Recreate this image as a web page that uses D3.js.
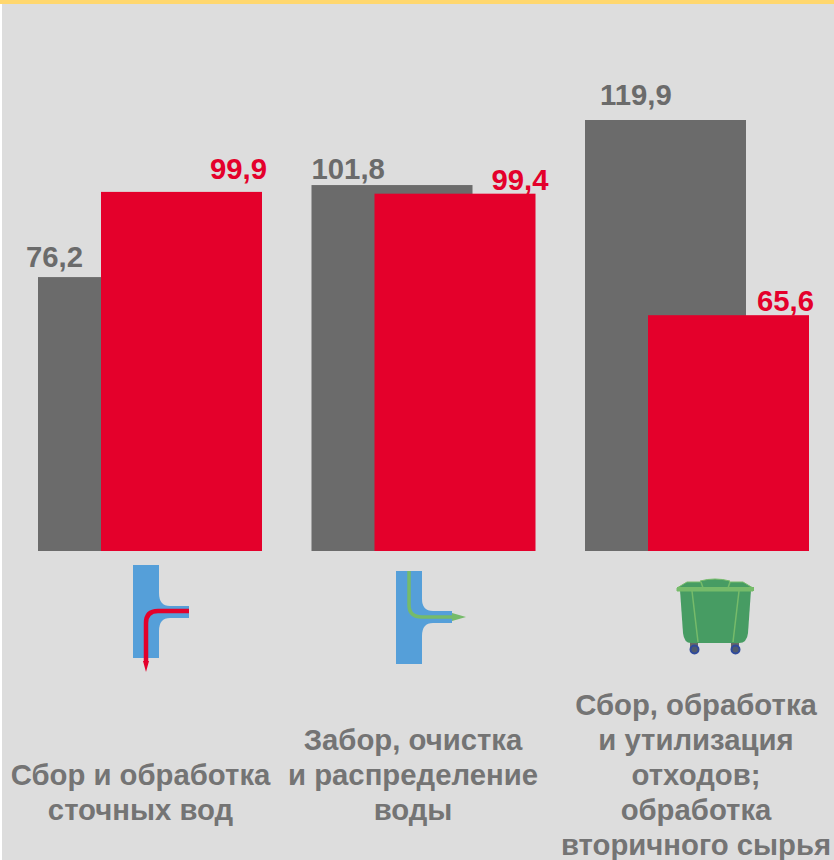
<!DOCTYPE html>
<html><head><meta charset="utf-8">
<script src="https://cdn.jsdelivr.net/npm/d3@7"></script>
<style>html,body{margin:0;padding:0;background:#fff}svg{display:block}text{font-family:"Liberation Sans",Arial,sans-serif;font-weight:bold}</style>
</head><body><div id="c"></div>
<script>
const categories = ["Сбор и обработка сточных вод","Забор, очистка и распределение воды","Сбор, обработка и утилизация отходов; обработка вторичного сырья"];
const categoryLines = [["Сбор и обработка","сточных вод"],["Забор, очистка","и распределение","воды"],["Сбор, обработка","и утилизация","отходов;","обработка","вторичного сырья"]];
const seriesGray = [76.2,101.8,119.9];
const seriesRed = [99.9,99.4,65.6];
const labelsGray = ["76,2","101,8","119,9"];
const labelsRed = ["99,9","99,4","65,6"];

const W=834,H=860,GRAY="#6b6b6b",RED="#e4002b";
const svg=d3.select("#c").append("svg").attr("width",W).attr("height",H);
svg.append("rect").attr("width",W).attr("height",H).attr("fill","#fff");
svg.append("rect").attr("x",2).attr("y",0).attr("width",W-2).attr("height",H).attr("fill","#dddddd");
svg.append("rect").attr("width",W).attr("height",4).attr("fill","#ffd76e");

const y=d3.scaleLinear().domain([0,119.9]).range([551,120]);
const x=d3.scaleBand().domain(categories).range([38,38+3*273.5]);
const barW=161, shift=63;

svg.selectAll(".g").data(categories).join("rect").attr("class","g")
 .attr("x",d=>x(d)).attr("width",barW)
 .attr("y",(d,i)=>y(seriesGray[i])).attr("height",(d,i)=>y(0)-y(seriesGray[i])).attr("fill",GRAY);
svg.selectAll(".r").data(categories).join("rect").attr("class","r")
 .attr("x",d=>x(d)+shift).attr("width",barW)
 .attr("y",(d,i)=>y(seriesRed[i])).attr("height",(d,i)=>y(0)-y(seriesRed[i])).attr("fill",RED);

// hand-placed label offsets from each bar's top-left / top-right corner
const grayDx=[-12,0,15], grayDy=[-10,-6,-15];
const redDx=[5,13,5], redDy=[-12.5,-4,-4];
svg.selectAll(".lg").data(categories).join("text").attr("class","lg")
 .attr("x",(d,i)=>x(d)+grayDx[i]).attr("y",(d,i)=>y(seriesGray[i])+grayDy[i])
 .attr("font-size",29.3).attr("fill",GRAY).text((d,i)=>labelsGray[i]);
svg.selectAll(".lr").data(categories).join("text").attr("class","lr")
 .attr("x",(d,i)=>x(d)+shift+barW+redDx[i]).attr("y",(d,i)=>y(seriesRed[i])+redDy[i])
 .attr("text-anchor","end").attr("font-size",29.3).attr("fill",RED).text((d,i)=>labelsRed[i]);

const centers=[140.5,413,696];
const bottoms=[819.5,819.5,855];
categoryLines.forEach((ls,i)=>{
 svg.append("g").selectAll("text").data(ls).join("text")
  .attr("x",centers[i]).attr("text-anchor","middle")
  .attr("y",(d,j)=>bottoms[i]-(ls.length-1-j)*35)
  .attr("font-size",29.3).attr("fill","#747474").text(d=>d);
});

// icons
const BLUE="#559fd9", LG="#76bb6a";
const i1=svg.append("g").attr("transform","translate(133,565)");
i1.append("path").attr("fill",BLUE).attr("d","M0 0H26V28Q26 41 37 41H56V53H37Q26 53 26 66V93H0Z");
i1.append("path").attr("fill","none").attr("stroke",RED).attr("stroke-width",4.5)
 .attr("d","M56 46H25Q13 46 13 58V97");
i1.append("path").attr("fill",RED).attr("d","M10 96H16L13 107Z");

const i2=svg.append("g").attr("transform","translate(396,571)");
i2.append("path").attr("fill",BLUE).attr("d","M0 0H26V28Q26 40 37 40H56V52H37Q26 52 26 65V93H0Z");
i2.append("path").attr("fill","none").attr("stroke",LG).attr("stroke-width",3.5)
 .attr("d","M13 0V34Q13 46 26 46H58");
i2.append("path").attr("fill",LG).attr("d","M56 42L70 46L56 50Z");

const i3=svg.append("g").attr("transform","translate(677,579)");
const GR="#479c63";
i3.append("path").attr("fill","#666").attr("d","M13 62H21V72H13ZM54 62H62V72H54Z");
i3.selectAll("circle").data([17.5,58.5]).join("circle").attr("cx",d=>d).attr("cy",70.5)
 .attr("r",4).attr("fill","#4f5a6e").attr("stroke","#2f4a9c").attr("stroke-width",2);
i3.append("path").attr("fill",GR).attr("d","M3 11H74L71 54Q70 64 62 64H14Q7 64 6 54Z");
i3.append("path").attr("fill",GR).attr("stroke",LG).attr("stroke-width",1)
 .attr("d","M0 9L10 3H24L23 2Q38 -2 53 2L52 3H66L76 9V12H0Z");
i3.append("path").attr("fill","none").attr("stroke",LG).attr("stroke-width",1.5)
 .attr("d","M15 12L21 63M62 12L56 63M24 3L26 9M53 3L51 9");
i3.append("rect").attr("x",0).attr("y",8).attr("width",77).attr("height",4).attr("fill",LG);
</script></body></html>
